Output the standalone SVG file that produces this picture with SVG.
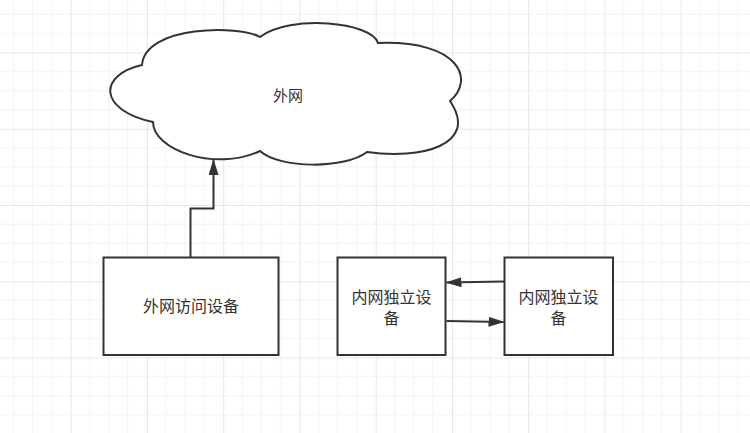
<svg xmlns="http://www.w3.org/2000/svg" width="750" height="433" viewBox="0 0 750 433">
  <defs>
    <pattern id="grid" x="-5.55" y="-23.75" width="76.25" height="76.25" patternUnits="userSpaceOnUse">
      <path d="M19.06 0V76.25M38.12 0V76.25M57.19 0V76.25M0 19.06H76.25M0 38.12H76.25M0 57.19H76.25" stroke="#f2f2f2" stroke-width="1" fill="none"/>
      <path d="M0.5 0V76.25M0 0.5H76.25" stroke="#e6e6e6" stroke-width="1" fill="none"/>
    </pattern>
    <marker id="arrow" viewBox="0 0 16 10" refX="15" refY="5" markerWidth="16" markerHeight="10" markerUnits="userSpaceOnUse" orient="auto">
      <path d="M0 0L16 5L0 10Z" fill="#333"/>
    </marker>
    <style>
      .shape { fill: #ffffff; stroke: #333333; stroke-width: 2; }
      .label { font-family: "Liberation Sans", "Noto Sans CJK SC", sans-serif; font-size: 16px; fill: #333333; text-anchor: middle; }
      .edge { fill: none; stroke: #333333; stroke-width: 2; }
    </style>
  </defs>
  <rect x="0" y="0" width="750" height="433" fill="#ffffff"/>
  <rect x="0" y="0" width="750" height="433" fill="url(#grid)"/>

  <g id="cloud">
    <path class="shape" d="M142 65C98 75 98 110 153 122C153 150 215 172 260 151C280 169 345 169 367 152C420 160 480 145 450 101C475 80 460 40 378 43C372 22 290 14 260 37C240 25 145 25 142 65Z"/>
    <text class="label" x="288" y="101" style="font-size:15px">外网</text>
  </g>

  <g id="node-external">
    <rect class="shape" x="103.5" y="257.5" width="175" height="97.5"/>
    <text class="label" x="191" y="312">外网访问设备</text>
  </g>

  <g id="node-internal-1">
    <rect class="shape" x="337.5" y="257.5" width="108" height="97.5"/>
    <text class="label" x="391.5" y="303">内网独立设</text>
    <text class="label" x="391.5" y="324">备</text>
  </g>

  <g id="node-internal-2">
    <rect class="shape" x="504.5" y="257.5" width="108.5" height="97.5"/>
    <text class="label" x="558.5" y="303">内网独立设</text>
    <text class="label" x="558.5" y="324">备</text>
  </g>

  <g id="connectors">
    <path class="edge" d="M190.5 257V208.5H213.5V160" marker-end="url(#arrow)"/>
    <path class="edge" d="M504 281.5L446.5 282.5" marker-end="url(#arrow)"/>
    <path class="edge" d="M446.5 321L503.5 322" marker-end="url(#arrow)"/>
  </g>
</svg>
